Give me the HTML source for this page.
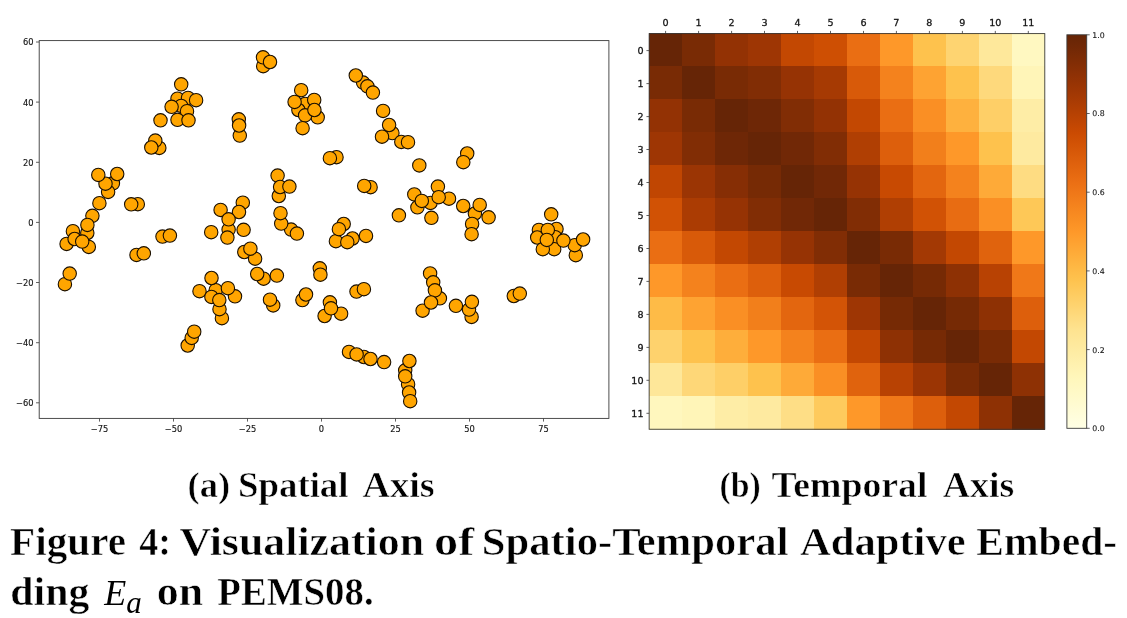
<!DOCTYPE html>
<html lang="en"><head><meta charset="utf-8"><title>Figure 4</title>
<style>html,body{margin:0;padding:0;background:#fff}body{width:1127px;height:618px;overflow:hidden}svg{display:block;will-change:transform}.t{font-family:"DejaVu Sans","Liberation Sans",sans-serif;fill:#161616;stroke:#161616;stroke-width:0.3px}.c{stroke-width:0.12px}.a{stroke-width:0.15px}.s{font-family:"Liberation Serif",serif;font-weight:bold;fill:#000}.w{stroke:#fff;stroke-width:0.55px}</style></head><body>
<svg width="1127" height="618" viewBox="0 0 1127 618">
<rect width="1127" height="618" fill="#fff"/>
<g>
<g id="scatter">
<g fill="#ffa500" stroke="#1a0f00" stroke-width="1.1">
<circle cx="177.5" cy="98.7" r="6.7"/>
<circle cx="188.0" cy="97.9" r="6.7"/>
<circle cx="181.2" cy="105.9" r="6.7"/>
<circle cx="238.8" cy="119.3" r="6.7"/>
<circle cx="239.8" cy="135.6" r="6.7"/>
<circle cx="263.2" cy="66.2" r="6.7"/>
<circle cx="305.2" cy="103.9" r="6.7"/>
<circle cx="363.1" cy="82.6" r="6.7"/>
<circle cx="392.4" cy="133.1" r="6.7"/>
<circle cx="401.3" cy="141.9" r="6.7"/>
<circle cx="336.5" cy="157.2" r="6.7"/>
<circle cx="277.6" cy="175.6" r="6.7"/>
<circle cx="467.2" cy="153.5" r="6.7"/>
<circle cx="437.9" cy="186.6" r="6.7"/>
<circle cx="414.3" cy="194.4" r="6.7"/>
<circle cx="112.9" cy="183.3" r="6.7"/>
<circle cx="137.8" cy="204.2" r="6.7"/>
<circle cx="159.3" cy="147.9" r="6.7"/>
<circle cx="278.8" cy="196.0" r="6.7"/>
<circle cx="291.1" cy="229.6" r="6.7"/>
<circle cx="242.8" cy="202.7" r="6.7"/>
<circle cx="228.6" cy="229.6" r="6.7"/>
<circle cx="370.6" cy="187.2" r="6.7"/>
<circle cx="449.0" cy="198.7" r="6.7"/>
<circle cx="417.4" cy="207.3" r="6.7"/>
<circle cx="343.7" cy="224.0" r="6.7"/>
<circle cx="352.5" cy="238.5" r="6.7"/>
<circle cx="474.9" cy="213.5" r="6.7"/>
<circle cx="538.9" cy="229.9" r="6.7"/>
<circle cx="556.5" cy="229.0" r="6.7"/>
<circle cx="555.2" cy="237.2" r="6.7"/>
<circle cx="554.2" cy="249.2" r="6.7"/>
<circle cx="575.8" cy="255.2" r="6.7"/>
<circle cx="72.9" cy="231.2" r="6.7"/>
<circle cx="66.6" cy="243.9" r="6.7"/>
<circle cx="88.8" cy="246.9" r="6.7"/>
<circle cx="64.9" cy="284.2" r="6.7"/>
<circle cx="136.5" cy="254.9" r="6.7"/>
<circle cx="162.5" cy="236.6" r="6.7"/>
<circle cx="244.3" cy="252.0" r="6.7"/>
<circle cx="263.6" cy="278.7" r="6.7"/>
<circle cx="319.8" cy="268.3" r="6.7"/>
<circle cx="215.7" cy="290.2" r="6.7"/>
<circle cx="235.0" cy="296.3" r="6.7"/>
<circle cx="221.9" cy="318.2" r="6.7"/>
<circle cx="273.2" cy="305.4" r="6.7"/>
<circle cx="302.4" cy="300.1" r="6.7"/>
<circle cx="356.5" cy="291.6" r="6.7"/>
<circle cx="430.1" cy="273.4" r="6.7"/>
<circle cx="439.9" cy="298.3" r="6.7"/>
<circle cx="471.6" cy="316.9" r="6.7"/>
<circle cx="513.8" cy="296.0" r="6.7"/>
<circle cx="329.9" cy="302.3" r="6.7"/>
<circle cx="341.1" cy="313.7" r="6.7"/>
<circle cx="324.6" cy="316.0" r="6.7"/>
<circle cx="187.7" cy="345.5" r="6.7"/>
<circle cx="349.0" cy="351.9" r="6.7"/>
<circle cx="363.9" cy="357.0" r="6.7"/>
<circle cx="405.2" cy="370.3" r="6.7"/>
<circle cx="408.1" cy="384.2" r="6.7"/>
<circle cx="314.2" cy="99.9" r="6.7"/>
<circle cx="298.4" cy="110.0" r="6.7"/>
<circle cx="317.7" cy="117.3" r="6.7"/>
<circle cx="187.0" cy="111.2" r="6.7"/>
<circle cx="177.5" cy="119.8" r="6.7"/>
<circle cx="160.5" cy="120.3" r="6.7"/>
<circle cx="263.0" cy="57.3" r="6.7"/>
<circle cx="305.1" cy="115.3" r="6.7"/>
<circle cx="302.6" cy="128.2" r="6.7"/>
<circle cx="367.4" cy="86.3" r="6.7"/>
<circle cx="383.1" cy="110.9" r="6.7"/>
<circle cx="419.3" cy="165.4" r="6.7"/>
<circle cx="108.1" cy="191.9" r="6.7"/>
<circle cx="92.4" cy="215.8" r="6.7"/>
<circle cx="155.3" cy="140.6" r="6.7"/>
<circle cx="280.1" cy="187.0" r="6.7"/>
<circle cx="281.2" cy="223.6" r="6.7"/>
<circle cx="220.6" cy="209.9" r="6.7"/>
<circle cx="243.6" cy="229.8" r="6.7"/>
<circle cx="211.2" cy="232.2" r="6.7"/>
<circle cx="430.5" cy="202.9" r="6.7"/>
<circle cx="431.4" cy="217.8" r="6.7"/>
<circle cx="398.9" cy="215.3" r="6.7"/>
<circle cx="366.0" cy="235.9" r="6.7"/>
<circle cx="335.9" cy="241.2" r="6.7"/>
<circle cx="463.2" cy="206.0" r="6.7"/>
<circle cx="488.6" cy="217.3" r="6.7"/>
<circle cx="472.1" cy="223.9" r="6.7"/>
<circle cx="551.2" cy="214.3" r="6.7"/>
<circle cx="537.2" cy="237.5" r="6.7"/>
<circle cx="542.8" cy="249.2" r="6.7"/>
<circle cx="574.7" cy="245.2" r="6.7"/>
<circle cx="87.3" cy="233.0" r="6.7"/>
<circle cx="74.6" cy="239.0" r="6.7"/>
<circle cx="255.1" cy="258.7" r="6.7"/>
<circle cx="276.9" cy="275.6" r="6.7"/>
<circle cx="211.5" cy="278.0" r="6.7"/>
<circle cx="199.5" cy="291.2" r="6.7"/>
<circle cx="211.4" cy="296.9" r="6.7"/>
<circle cx="219.5" cy="309.2" r="6.7"/>
<circle cx="433.2" cy="282.3" r="6.7"/>
<circle cx="422.6" cy="310.7" r="6.7"/>
<circle cx="455.9" cy="305.8" r="6.7"/>
<circle cx="469.0" cy="309.6" r="6.7"/>
<circle cx="191.7" cy="337.9" r="6.7"/>
<circle cx="384.1" cy="362.1" r="6.7"/>
<circle cx="409.1" cy="392.5" r="6.7"/>
<circle cx="105.5" cy="183.7" r="6.7"/>
<circle cx="181.2" cy="84.3" r="6.7"/>
<circle cx="196.1" cy="100.2" r="6.7"/>
<circle cx="171.6" cy="106.8" r="6.7"/>
<circle cx="188.5" cy="120.3" r="6.7"/>
<circle cx="239.1" cy="125.5" r="6.7"/>
<circle cx="270.0" cy="62.0" r="6.7"/>
<circle cx="301.2" cy="90.2" r="6.7"/>
<circle cx="294.6" cy="101.9" r="6.7"/>
<circle cx="314.4" cy="110.0" r="6.7"/>
<circle cx="355.8" cy="75.5" r="6.7"/>
<circle cx="372.9" cy="92.6" r="6.7"/>
<circle cx="389.1" cy="125.0" r="6.7"/>
<circle cx="382.0" cy="136.7" r="6.7"/>
<circle cx="408.0" cy="142.2" r="6.7"/>
<circle cx="329.9" cy="158.2" r="6.7"/>
<circle cx="463.3" cy="162.2" r="6.7"/>
<circle cx="98.3" cy="174.9" r="6.7"/>
<circle cx="117.2" cy="174.0" r="6.7"/>
<circle cx="99.4" cy="203.2" r="6.7"/>
<circle cx="87.4" cy="224.9" r="6.7"/>
<circle cx="131.2" cy="204.3" r="6.7"/>
<circle cx="151.3" cy="147.5" r="6.7"/>
<circle cx="289.4" cy="186.6" r="6.7"/>
<circle cx="280.5" cy="213.2" r="6.7"/>
<circle cx="296.9" cy="233.6" r="6.7"/>
<circle cx="239.0" cy="212.0" r="6.7"/>
<circle cx="228.6" cy="219.3" r="6.7"/>
<circle cx="227.4" cy="237.6" r="6.7"/>
<circle cx="364.2" cy="185.9" r="6.7"/>
<circle cx="438.7" cy="197.2" r="6.7"/>
<circle cx="421.8" cy="200.9" r="6.7"/>
<circle cx="338.9" cy="229.2" r="6.7"/>
<circle cx="347.3" cy="242.2" r="6.7"/>
<circle cx="479.7" cy="204.9" r="6.7"/>
<circle cx="471.6" cy="234.2" r="6.7"/>
<circle cx="547.8" cy="229.9" r="6.7"/>
<circle cx="546.8" cy="239.9" r="6.7"/>
<circle cx="563.4" cy="240.6" r="6.7"/>
<circle cx="583.1" cy="239.5" r="6.7"/>
<circle cx="82.2" cy="241.6" r="6.7"/>
<circle cx="69.7" cy="273.6" r="6.7"/>
<circle cx="143.8" cy="253.3" r="6.7"/>
<circle cx="169.9" cy="235.6" r="6.7"/>
<circle cx="250.4" cy="248.7" r="6.7"/>
<circle cx="257.2" cy="274.0" r="6.7"/>
<circle cx="320.4" cy="274.7" r="6.7"/>
<circle cx="227.9" cy="288.2" r="6.7"/>
<circle cx="219.3" cy="300.1" r="6.7"/>
<circle cx="270.0" cy="299.7" r="6.7"/>
<circle cx="306.0" cy="294.5" r="6.7"/>
<circle cx="363.9" cy="289.2" r="6.7"/>
<circle cx="434.9" cy="290.3" r="6.7"/>
<circle cx="431.0" cy="302.5" r="6.7"/>
<circle cx="471.9" cy="301.8" r="6.7"/>
<circle cx="519.8" cy="293.6" r="6.7"/>
<circle cx="331.0" cy="308.3" r="6.7"/>
<circle cx="194.2" cy="331.7" r="6.7"/>
<circle cx="356.6" cy="354.4" r="6.7"/>
<circle cx="370.5" cy="359.0" r="6.7"/>
<circle cx="409.4" cy="361.0" r="6.7"/>
<circle cx="405.2" cy="376.3" r="6.7"/>
<circle cx="410.2" cy="401.2" r="6.7"/>
</g>
<rect x="39.2" y="40.6" width="569.7" height="377.8" fill="none" stroke="#3a3a3a" stroke-width="0.9"/>
<line x1="99.5" y1="418.4" x2="99.5" y2="421.59999999999997" stroke="#3a3a3a" stroke-width="0.8"/>
<text class="t a" x="99.5" y="431.8" font-size="8.3" text-anchor="middle">−75</text>
<line x1="173.5" y1="418.4" x2="173.5" y2="421.59999999999997" stroke="#3a3a3a" stroke-width="0.8"/>
<text class="t a" x="173.5" y="431.8" font-size="8.3" text-anchor="middle">−50</text>
<line x1="247.5" y1="418.4" x2="247.5" y2="421.59999999999997" stroke="#3a3a3a" stroke-width="0.8"/>
<text class="t a" x="247.5" y="431.8" font-size="8.3" text-anchor="middle">−25</text>
<line x1="321.5" y1="418.4" x2="321.5" y2="421.59999999999997" stroke="#3a3a3a" stroke-width="0.8"/>
<text class="t a" x="321.5" y="431.8" font-size="8.3" text-anchor="middle">0</text>
<line x1="395.5" y1="418.4" x2="395.5" y2="421.59999999999997" stroke="#3a3a3a" stroke-width="0.8"/>
<text class="t a" x="395.5" y="431.8" font-size="8.3" text-anchor="middle">25</text>
<line x1="469.5" y1="418.4" x2="469.5" y2="421.59999999999997" stroke="#3a3a3a" stroke-width="0.8"/>
<text class="t a" x="469.5" y="431.8" font-size="8.3" text-anchor="middle">50</text>
<line x1="543.5" y1="418.4" x2="543.5" y2="421.59999999999997" stroke="#3a3a3a" stroke-width="0.8"/>
<text class="t a" x="543.5" y="431.8" font-size="8.3" text-anchor="middle">75</text>
<line x1="36.0" y1="42.0" x2="39.2" y2="42.0" stroke="#3a3a3a" stroke-width="0.8"/>
<text class="t a" x="33.6" y="45.4" font-size="8.3" text-anchor="end">60</text>
<line x1="36.0" y1="102.1" x2="39.2" y2="102.1" stroke="#3a3a3a" stroke-width="0.8"/>
<text class="t a" x="33.6" y="105.5" font-size="8.3" text-anchor="end">40</text>
<line x1="36.0" y1="162.3" x2="39.2" y2="162.3" stroke="#3a3a3a" stroke-width="0.8"/>
<text class="t a" x="33.6" y="165.7" font-size="8.3" text-anchor="end">20</text>
<line x1="36.0" y1="222.4" x2="39.2" y2="222.4" stroke="#3a3a3a" stroke-width="0.8"/>
<text class="t a" x="33.6" y="225.8" font-size="8.3" text-anchor="end">0</text>
<line x1="36.0" y1="282.5" x2="39.2" y2="282.5" stroke="#3a3a3a" stroke-width="0.8"/>
<text class="t a" x="33.6" y="285.9" font-size="8.3" text-anchor="end">−20</text>
<line x1="36.0" y1="342.7" x2="39.2" y2="342.7" stroke="#3a3a3a" stroke-width="0.8"/>
<text class="t a" x="33.6" y="346.1" font-size="8.3" text-anchor="end">−40</text>
<line x1="36.0" y1="402.8" x2="39.2" y2="402.8" stroke="#3a3a3a" stroke-width="0.8"/>
<text class="t a" x="33.6" y="406.2" font-size="8.3" text-anchor="end">−60</text>
</g>
<g id="heat">
<g shape-rendering="crispEdges">
<rect x="648.9" y="33.3" width="33.6" height="33.6" fill="#662506"/>
<rect x="681.8" y="33.3" width="33.6" height="33.6" fill="#792b05"/>
<rect x="714.8" y="33.3" width="33.6" height="33.6" fill="#933204"/>
<rect x="747.8" y="33.3" width="33.6" height="33.6" fill="#9e3604"/>
<rect x="780.7" y="33.3" width="33.6" height="33.6" fill="#c34802"/>
<rect x="813.7" y="33.3" width="33.6" height="33.6" fill="#ce4f03"/>
<rect x="846.7" y="33.3" width="33.6" height="33.6" fill="#ea6e13"/>
<rect x="879.6" y="33.3" width="33.6" height="33.6" fill="#fe9829"/>
<rect x="912.6" y="33.3" width="33.6" height="33.6" fill="#fec24d"/>
<rect x="945.6" y="33.3" width="33.6" height="33.6" fill="#fed471"/>
<rect x="978.5" y="33.3" width="33.6" height="33.6" fill="#fee89b"/>
<rect x="1011.5" y="33.3" width="33.6" height="33.6" fill="#fff8c1"/>
<rect x="648.9" y="66.3" width="33.6" height="33.6" fill="#792b05"/>
<rect x="681.8" y="66.3" width="33.6" height="33.6" fill="#662506"/>
<rect x="714.8" y="66.3" width="33.6" height="33.6" fill="#792b05"/>
<rect x="747.8" y="66.3" width="33.6" height="33.6" fill="#812d05"/>
<rect x="780.7" y="66.3" width="33.6" height="33.6" fill="#963304"/>
<rect x="813.7" y="66.3" width="33.6" height="33.6" fill="#a63a03"/>
<rect x="846.7" y="66.3" width="33.6" height="33.6" fill="#d85a09"/>
<rect x="879.6" y="66.3" width="33.6" height="33.6" fill="#f4821d"/>
<rect x="912.6" y="66.3" width="33.6" height="33.6" fill="#fea332"/>
<rect x="945.6" y="66.3" width="33.6" height="33.6" fill="#fec24d"/>
<rect x="978.5" y="66.3" width="33.6" height="33.6" fill="#fed97c"/>
<rect x="1011.5" y="66.3" width="33.6" height="33.6" fill="#fff5b8"/>
<rect x="648.9" y="99.2" width="33.6" height="33.6" fill="#933204"/>
<rect x="681.8" y="99.2" width="33.6" height="33.6" fill="#792b05"/>
<rect x="714.8" y="99.2" width="33.6" height="33.6" fill="#662506"/>
<rect x="747.8" y="99.2" width="33.6" height="33.6" fill="#6e2706"/>
<rect x="780.7" y="99.2" width="33.6" height="33.6" fill="#812d05"/>
<rect x="813.7" y="99.2" width="33.6" height="33.6" fill="#933204"/>
<rect x="846.7" y="99.2" width="33.6" height="33.6" fill="#c34802"/>
<rect x="879.6" y="99.2" width="33.6" height="33.6" fill="#ea6e13"/>
<rect x="912.6" y="99.2" width="33.6" height="33.6" fill="#fa8f24"/>
<rect x="945.6" y="99.2" width="33.6" height="33.6" fill="#feb13e"/>
<rect x="978.5" y="99.2" width="33.6" height="33.6" fill="#fecf67"/>
<rect x="1011.5" y="99.2" width="33.6" height="33.6" fill="#feeda6"/>
<rect x="648.9" y="132.2" width="33.6" height="33.6" fill="#9e3604"/>
<rect x="681.8" y="132.2" width="33.6" height="33.6" fill="#812d05"/>
<rect x="714.8" y="132.2" width="33.6" height="33.6" fill="#6e2706"/>
<rect x="747.8" y="132.2" width="33.6" height="33.6" fill="#662506"/>
<rect x="780.7" y="132.2" width="33.6" height="33.6" fill="#712806"/>
<rect x="813.7" y="132.2" width="33.6" height="33.6" fill="#812d05"/>
<rect x="846.7" y="132.2" width="33.6" height="33.6" fill="#b03f03"/>
<rect x="879.6" y="132.2" width="33.6" height="33.6" fill="#dd5f0c"/>
<rect x="912.6" y="132.2" width="33.6" height="33.6" fill="#f27f1b"/>
<rect x="945.6" y="132.2" width="33.6" height="33.6" fill="#fe9829"/>
<rect x="978.5" y="132.2" width="33.6" height="33.6" fill="#fec24d"/>
<rect x="1011.5" y="132.2" width="33.6" height="33.6" fill="#feeaa0"/>
<rect x="648.9" y="165.2" width="33.6" height="33.6" fill="#c04602"/>
<rect x="681.8" y="165.2" width="33.6" height="33.6" fill="#9b3504"/>
<rect x="714.8" y="165.2" width="33.6" height="33.6" fill="#862e05"/>
<rect x="747.8" y="165.2" width="33.6" height="33.6" fill="#762a05"/>
<rect x="780.7" y="165.2" width="33.6" height="33.6" fill="#662506"/>
<rect x="813.7" y="165.2" width="33.6" height="33.6" fill="#712806"/>
<rect x="846.7" y="165.2" width="33.6" height="33.6" fill="#963304"/>
<rect x="879.6" y="165.2" width="33.6" height="33.6" fill="#c84a02"/>
<rect x="912.6" y="165.2" width="33.6" height="33.6" fill="#e3660f"/>
<rect x="945.6" y="165.2" width="33.6" height="33.6" fill="#f4821d"/>
<rect x="978.5" y="165.2" width="33.6" height="33.6" fill="#feaa38"/>
<rect x="1011.5" y="165.2" width="33.6" height="33.6" fill="#fedc82"/>
<rect x="648.9" y="198.1" width="33.6" height="33.6" fill="#d15205"/>
<rect x="681.8" y="198.1" width="33.6" height="33.6" fill="#ab3c03"/>
<rect x="714.8" y="198.1" width="33.6" height="33.6" fill="#963304"/>
<rect x="747.8" y="198.1" width="33.6" height="33.6" fill="#812d05"/>
<rect x="780.7" y="198.1" width="33.6" height="33.6" fill="#712806"/>
<rect x="813.7" y="198.1" width="33.6" height="33.6" fill="#662506"/>
<rect x="846.7" y="198.1" width="33.6" height="33.6" fill="#812d05"/>
<rect x="879.6" y="198.1" width="33.6" height="33.6" fill="#b03f03"/>
<rect x="912.6" y="198.1" width="33.6" height="33.6" fill="#d15205"/>
<rect x="945.6" y="198.1" width="33.6" height="33.6" fill="#e86c12"/>
<rect x="978.5" y="198.1" width="33.6" height="33.6" fill="#fa8f24"/>
<rect x="1011.5" y="198.1" width="33.6" height="33.6" fill="#fec857"/>
<rect x="648.9" y="231.1" width="33.6" height="33.6" fill="#ea6e13"/>
<rect x="681.8" y="231.1" width="33.6" height="33.6" fill="#d85a09"/>
<rect x="714.8" y="231.1" width="33.6" height="33.6" fill="#c34802"/>
<rect x="747.8" y="231.1" width="33.6" height="33.6" fill="#b03f03"/>
<rect x="780.7" y="231.1" width="33.6" height="33.6" fill="#963304"/>
<rect x="813.7" y="231.1" width="33.6" height="33.6" fill="#812d05"/>
<rect x="846.7" y="231.1" width="33.6" height="33.6" fill="#662506"/>
<rect x="879.6" y="231.1" width="33.6" height="33.6" fill="#792b05"/>
<rect x="912.6" y="231.1" width="33.6" height="33.6" fill="#a33904"/>
<rect x="945.6" y="231.1" width="33.6" height="33.6" fill="#c34802"/>
<rect x="978.5" y="231.1" width="33.6" height="33.6" fill="#e0630d"/>
<rect x="1011.5" y="231.1" width="33.6" height="33.6" fill="#fe9829"/>
<rect x="648.9" y="264.1" width="33.6" height="33.6" fill="#fe9829"/>
<rect x="681.8" y="264.1" width="33.6" height="33.6" fill="#f4821d"/>
<rect x="714.8" y="264.1" width="33.6" height="33.6" fill="#ea6e13"/>
<rect x="747.8" y="264.1" width="33.6" height="33.6" fill="#dd5f0c"/>
<rect x="780.7" y="264.1" width="33.6" height="33.6" fill="#c84a02"/>
<rect x="813.7" y="264.1" width="33.6" height="33.6" fill="#b03f03"/>
<rect x="846.7" y="264.1" width="33.6" height="33.6" fill="#792b05"/>
<rect x="879.6" y="264.1" width="33.6" height="33.6" fill="#662506"/>
<rect x="912.6" y="264.1" width="33.6" height="33.6" fill="#762a05"/>
<rect x="945.6" y="264.1" width="33.6" height="33.6" fill="#8e3104"/>
<rect x="978.5" y="264.1" width="33.6" height="33.6" fill="#b84203"/>
<rect x="1011.5" y="264.1" width="33.6" height="33.6" fill="#f07818"/>
<rect x="648.9" y="297.1" width="33.6" height="33.6" fill="#febb47"/>
<rect x="681.8" y="297.1" width="33.6" height="33.6" fill="#fea332"/>
<rect x="714.8" y="297.1" width="33.6" height="33.6" fill="#fa8f24"/>
<rect x="747.8" y="297.1" width="33.6" height="33.6" fill="#f27f1b"/>
<rect x="780.7" y="297.1" width="33.6" height="33.6" fill="#e3660f"/>
<rect x="813.7" y="297.1" width="33.6" height="33.6" fill="#d35406"/>
<rect x="846.7" y="297.1" width="33.6" height="33.6" fill="#9e3604"/>
<rect x="879.6" y="297.1" width="33.6" height="33.6" fill="#762a05"/>
<rect x="912.6" y="297.1" width="33.6" height="33.6" fill="#662506"/>
<rect x="945.6" y="297.1" width="33.6" height="33.6" fill="#762a05"/>
<rect x="978.5" y="297.1" width="33.6" height="33.6" fill="#8e3104"/>
<rect x="1011.5" y="297.1" width="33.6" height="33.6" fill="#dd5f0c"/>
<rect x="648.9" y="330.0" width="33.6" height="33.6" fill="#fed26d"/>
<rect x="681.8" y="330.0" width="33.6" height="33.6" fill="#fec24d"/>
<rect x="714.8" y="330.0" width="33.6" height="33.6" fill="#feae3b"/>
<rect x="747.8" y="330.0" width="33.6" height="33.6" fill="#fe9829"/>
<rect x="780.7" y="330.0" width="33.6" height="33.6" fill="#f4821d"/>
<rect x="813.7" y="330.0" width="33.6" height="33.6" fill="#ea6e13"/>
<rect x="846.7" y="330.0" width="33.6" height="33.6" fill="#c34802"/>
<rect x="879.6" y="330.0" width="33.6" height="33.6" fill="#8e3104"/>
<rect x="912.6" y="330.0" width="33.6" height="33.6" fill="#762a05"/>
<rect x="945.6" y="330.0" width="33.6" height="33.6" fill="#662506"/>
<rect x="978.5" y="330.0" width="33.6" height="33.6" fill="#792b05"/>
<rect x="1011.5" y="330.0" width="33.6" height="33.6" fill="#c34802"/>
<rect x="648.9" y="363.0" width="33.6" height="33.6" fill="#fee799"/>
<rect x="681.8" y="363.0" width="33.6" height="33.6" fill="#fed778"/>
<rect x="714.8" y="363.0" width="33.6" height="33.6" fill="#fecf67"/>
<rect x="747.8" y="363.0" width="33.6" height="33.6" fill="#fec24d"/>
<rect x="780.7" y="363.0" width="33.6" height="33.6" fill="#feaa38"/>
<rect x="813.7" y="363.0" width="33.6" height="33.6" fill="#fa8f24"/>
<rect x="846.7" y="363.0" width="33.6" height="33.6" fill="#e0630d"/>
<rect x="879.6" y="363.0" width="33.6" height="33.6" fill="#b84203"/>
<rect x="912.6" y="363.0" width="33.6" height="33.6" fill="#9b3504"/>
<rect x="945.6" y="363.0" width="33.6" height="33.6" fill="#792b05"/>
<rect x="978.5" y="363.0" width="33.6" height="33.6" fill="#662506"/>
<rect x="1011.5" y="363.0" width="33.6" height="33.6" fill="#8e3104"/>
<rect x="648.9" y="396.0" width="33.6" height="33.6" fill="#fff7be"/>
<rect x="681.8" y="396.0" width="33.6" height="33.6" fill="#fff5b8"/>
<rect x="714.8" y="396.0" width="33.6" height="33.6" fill="#feeda6"/>
<rect x="747.8" y="396.0" width="33.6" height="33.6" fill="#feeaa0"/>
<rect x="780.7" y="396.0" width="33.6" height="33.6" fill="#fede86"/>
<rect x="813.7" y="396.0" width="33.6" height="33.6" fill="#feca5d"/>
<rect x="846.7" y="396.0" width="33.6" height="33.6" fill="#fe9829"/>
<rect x="879.6" y="396.0" width="33.6" height="33.6" fill="#f07818"/>
<rect x="912.6" y="396.0" width="33.6" height="33.6" fill="#dd5f0c"/>
<rect x="945.6" y="396.0" width="33.6" height="33.6" fill="#c34802"/>
<rect x="978.5" y="396.0" width="33.6" height="33.6" fill="#8e3104"/>
<rect x="1011.5" y="396.0" width="33.6" height="33.6" fill="#662506"/>
</g>
<rect x="649.15" y="33.6" width="395.64" height="395.64" fill="none" stroke="#3a3a3a" stroke-width="0.9"/>
<line x1="665.6" y1="30.900000000000002" x2="665.6" y2="33.6" stroke="#3a3a3a" stroke-width="0.8"/>
<text class="t" transform="translate(665.6,26.0) scale(1,0.9)" font-size="9.6" text-anchor="middle">0</text>
<line x1="646.4499999999999" y1="50.6" x2="649.15" y2="50.6" stroke="#3a3a3a" stroke-width="0.8"/>
<text class="t" transform="translate(643.5,53.9) scale(1,0.9)" font-size="9.6" text-anchor="end">0</text>
<line x1="698.6" y1="30.900000000000002" x2="698.6" y2="33.6" stroke="#3a3a3a" stroke-width="0.8"/>
<text class="t" transform="translate(698.6,26.0) scale(1,0.9)" font-size="9.6" text-anchor="middle">1</text>
<line x1="646.4499999999999" y1="83.6" x2="649.15" y2="83.6" stroke="#3a3a3a" stroke-width="0.8"/>
<text class="t" transform="translate(643.5,86.9) scale(1,0.9)" font-size="9.6" text-anchor="end">1</text>
<line x1="731.6" y1="30.900000000000002" x2="731.6" y2="33.6" stroke="#3a3a3a" stroke-width="0.8"/>
<text class="t" transform="translate(731.6,26.0) scale(1,0.9)" font-size="9.6" text-anchor="middle">2</text>
<line x1="646.4499999999999" y1="116.6" x2="649.15" y2="116.6" stroke="#3a3a3a" stroke-width="0.8"/>
<text class="t" transform="translate(643.5,119.9) scale(1,0.9)" font-size="9.6" text-anchor="end">2</text>
<line x1="764.5" y1="30.900000000000002" x2="764.5" y2="33.6" stroke="#3a3a3a" stroke-width="0.8"/>
<text class="t" transform="translate(764.5,26.0) scale(1,0.9)" font-size="9.6" text-anchor="middle">3</text>
<line x1="646.4499999999999" y1="149.5" x2="649.15" y2="149.5" stroke="#3a3a3a" stroke-width="0.8"/>
<text class="t" transform="translate(643.5,152.8) scale(1,0.9)" font-size="9.6" text-anchor="end">3</text>
<line x1="797.5" y1="30.900000000000002" x2="797.5" y2="33.6" stroke="#3a3a3a" stroke-width="0.8"/>
<text class="t" transform="translate(797.5,26.0) scale(1,0.9)" font-size="9.6" text-anchor="middle">4</text>
<line x1="646.4499999999999" y1="182.5" x2="649.15" y2="182.5" stroke="#3a3a3a" stroke-width="0.8"/>
<text class="t" transform="translate(643.5,185.8) scale(1,0.9)" font-size="9.6" text-anchor="end">4</text>
<line x1="830.5" y1="30.900000000000002" x2="830.5" y2="33.6" stroke="#3a3a3a" stroke-width="0.8"/>
<text class="t" transform="translate(830.5,26.0) scale(1,0.9)" font-size="9.6" text-anchor="middle">5</text>
<line x1="646.4499999999999" y1="215.5" x2="649.15" y2="215.5" stroke="#3a3a3a" stroke-width="0.8"/>
<text class="t" transform="translate(643.5,218.8) scale(1,0.9)" font-size="9.6" text-anchor="end">5</text>
<line x1="863.5" y1="30.900000000000002" x2="863.5" y2="33.6" stroke="#3a3a3a" stroke-width="0.8"/>
<text class="t" transform="translate(863.5,26.0) scale(1,0.9)" font-size="9.6" text-anchor="middle">6</text>
<line x1="646.4499999999999" y1="248.5" x2="649.15" y2="248.5" stroke="#3a3a3a" stroke-width="0.8"/>
<text class="t" transform="translate(643.5,251.8) scale(1,0.9)" font-size="9.6" text-anchor="end">6</text>
<line x1="896.4" y1="30.900000000000002" x2="896.4" y2="33.6" stroke="#3a3a3a" stroke-width="0.8"/>
<text class="t" transform="translate(896.4,26.0) scale(1,0.9)" font-size="9.6" text-anchor="middle">7</text>
<line x1="646.4499999999999" y1="281.4" x2="649.15" y2="281.4" stroke="#3a3a3a" stroke-width="0.8"/>
<text class="t" transform="translate(643.5,284.7) scale(1,0.9)" font-size="9.6" text-anchor="end">7</text>
<line x1="929.4" y1="30.900000000000002" x2="929.4" y2="33.6" stroke="#3a3a3a" stroke-width="0.8"/>
<text class="t" transform="translate(929.4,26.0) scale(1,0.9)" font-size="9.6" text-anchor="middle">8</text>
<line x1="646.4499999999999" y1="314.4" x2="649.15" y2="314.4" stroke="#3a3a3a" stroke-width="0.8"/>
<text class="t" transform="translate(643.5,317.7) scale(1,0.9)" font-size="9.6" text-anchor="end">8</text>
<line x1="962.4" y1="30.900000000000002" x2="962.4" y2="33.6" stroke="#3a3a3a" stroke-width="0.8"/>
<text class="t" transform="translate(962.4,26.0) scale(1,0.9)" font-size="9.6" text-anchor="middle">9</text>
<line x1="646.4499999999999" y1="347.4" x2="649.15" y2="347.4" stroke="#3a3a3a" stroke-width="0.8"/>
<text class="t" transform="translate(643.5,350.7) scale(1,0.9)" font-size="9.6" text-anchor="end">9</text>
<line x1="995.3" y1="30.900000000000002" x2="995.3" y2="33.6" stroke="#3a3a3a" stroke-width="0.8"/>
<text class="t" transform="translate(995.3,26.0) scale(1,0.9)" font-size="9.6" text-anchor="middle">10</text>
<line x1="646.4499999999999" y1="380.3" x2="649.15" y2="380.3" stroke="#3a3a3a" stroke-width="0.8"/>
<text class="t" transform="translate(643.5,383.6) scale(1,0.9)" font-size="9.6" text-anchor="end">10</text>
<line x1="1028.3" y1="30.900000000000002" x2="1028.3" y2="33.6" stroke="#3a3a3a" stroke-width="0.8"/>
<text class="t" transform="translate(1028.3,26.0) scale(1,0.9)" font-size="9.6" text-anchor="middle">11</text>
<line x1="646.4499999999999" y1="413.3" x2="649.15" y2="413.3" stroke="#3a3a3a" stroke-width="0.8"/>
<text class="t" transform="translate(643.5,416.6) scale(1,0.9)" font-size="9.6" text-anchor="end">11</text>
</g>
<defs><linearGradient id="cb" x1="0" y1="1" x2="0" y2="0">
<stop offset="0.0000" stop-color="#ffffe5"/>
<stop offset="0.0312" stop-color="#fffddb"/>
<stop offset="0.0625" stop-color="#fffbd0"/>
<stop offset="0.0938" stop-color="#fff9c6"/>
<stop offset="0.1250" stop-color="#fff7bc"/>
<stop offset="0.1562" stop-color="#fff2b1"/>
<stop offset="0.1875" stop-color="#feeda6"/>
<stop offset="0.2188" stop-color="#fee89b"/>
<stop offset="0.2500" stop-color="#fee390"/>
<stop offset="0.2812" stop-color="#fedb80"/>
<stop offset="0.3125" stop-color="#fed36f"/>
<stop offset="0.3438" stop-color="#fecb5f"/>
<stop offset="0.3750" stop-color="#fec34f"/>
<stop offset="0.4062" stop-color="#feb945"/>
<stop offset="0.4375" stop-color="#feae3b"/>
<stop offset="0.4688" stop-color="#fea332"/>
<stop offset="0.5000" stop-color="#fe9829"/>
<stop offset="0.5312" stop-color="#f98e23"/>
<stop offset="0.5625" stop-color="#f5841e"/>
<stop offset="0.5938" stop-color="#f07919"/>
<stop offset="0.6250" stop-color="#eb6f14"/>
<stop offset="0.6562" stop-color="#e3660f"/>
<stop offset="0.6875" stop-color="#db5d0b"/>
<stop offset="0.7188" stop-color="#d35406"/>
<stop offset="0.7500" stop-color="#cb4b02"/>
<stop offset="0.7812" stop-color="#be4503"/>
<stop offset="0.8125" stop-color="#b13f03"/>
<stop offset="0.8438" stop-color="#a43904"/>
<stop offset="0.8750" stop-color="#983404"/>
<stop offset="0.9062" stop-color="#8b3005"/>
<stop offset="0.9375" stop-color="#7e2c05"/>
<stop offset="0.9688" stop-color="#712806"/>
<stop offset="1.0000" stop-color="#662506"/>
</linearGradient></defs>
<rect x="1066.9" y="34.8" width="19.8" height="393.5" fill="url(#cb)" stroke="#3a3a3a" stroke-width="0.9"/>
<line x1="1086.7" y1="428.3" x2="1089.7" y2="428.3" stroke="#3a3a3a" stroke-width="0.8"/>
<text class="t c" x="1092.3" y="431.2" font-size="7.8">0.0</text>
<line x1="1086.7" y1="349.6" x2="1089.7" y2="349.6" stroke="#3a3a3a" stroke-width="0.8"/>
<text class="t c" x="1092.3" y="352.5" font-size="7.8">0.2</text>
<line x1="1086.7" y1="270.9" x2="1089.7" y2="270.9" stroke="#3a3a3a" stroke-width="0.8"/>
<text class="t c" x="1092.3" y="273.8" font-size="7.8">0.4</text>
<line x1="1086.7" y1="192.2" x2="1089.7" y2="192.2" stroke="#3a3a3a" stroke-width="0.8"/>
<text class="t c" x="1092.3" y="195.1" font-size="7.8">0.6</text>
<line x1="1086.7" y1="113.5" x2="1089.7" y2="113.5" stroke="#3a3a3a" stroke-width="0.8"/>
<text class="t c" x="1092.3" y="116.4" font-size="7.8">0.8</text>
<line x1="1086.7" y1="34.8" x2="1089.7" y2="34.8" stroke="#3a3a3a" stroke-width="0.8"/>
<text class="t c" x="1092.3" y="37.7" font-size="7.8">1.0</text>
<text class="s w" transform="translate(187.55,496.7) scale(1.0517,1)" font-size="34.8">(a)</text>
<text class="s w" transform="translate(238.04,496.7) scale(1.0582,1)" font-size="34.8">Spatial</text>
<text class="s w" transform="translate(362.50,496.7) scale(1.0982,1)" font-size="34.8">Axis</text>
<text class="s w" transform="translate(719.53,496.7) scale(0.9722,1)" font-size="34.8">(b)</text>
<text class="s w" transform="translate(771.50,496.7) scale(1.0851,1)" font-size="34.8">Temporal</text>
<text class="s w" transform="translate(942.80,496.7) scale(1.0875,1)" font-size="34.8">Axis</text>
<text class="s w" transform="translate(10.10,554.8) scale(1.0346,1)" font-size="39.8">Figure</text>
<text class="s w" transform="translate(139.30,554.8) scale(0.9566,1)" font-size="39.8">4:</text>
<text class="s w" transform="translate(179.60,554.8) scale(1.1023,1)" font-size="39.8">Visualization</text>
<text class="s w" transform="translate(434.09,554.8) scale(1.2128,1)" font-size="39.8">of</text>
<text class="s w" transform="translate(481.75,554.8) scale(1.0728,1)" font-size="39.8">Spatio-Temporal</text>
<text class="s w" transform="translate(799.90,554.8) scale(1.0713,1)" font-size="39.8">Adaptive</text>
<text class="s w" transform="translate(976.30,554.8) scale(1.0440,1)" font-size="39.8">Embed-</text>
<text class="s w" transform="translate(10.35,604.5) scale(1.0495,1)" font-size="39.8">ding</text>
<text class="s w" transform="translate(156.80,604.5) scale(1.1027,1)" font-size="39.8">on</text>
<text class="s w" transform="translate(217.20,604.5) scale(0.9759,1)" font-size="39.8">PEMS08.</text>
<text class="s" x="104.3" y="604.5" font-size="36" font-style="italic" style="font-weight:normal">E</text>
<text class="s" x="126.3" y="612.6" font-size="31" font-style="italic" style="font-weight:normal">a</text>
</g>
</svg></body></html>
